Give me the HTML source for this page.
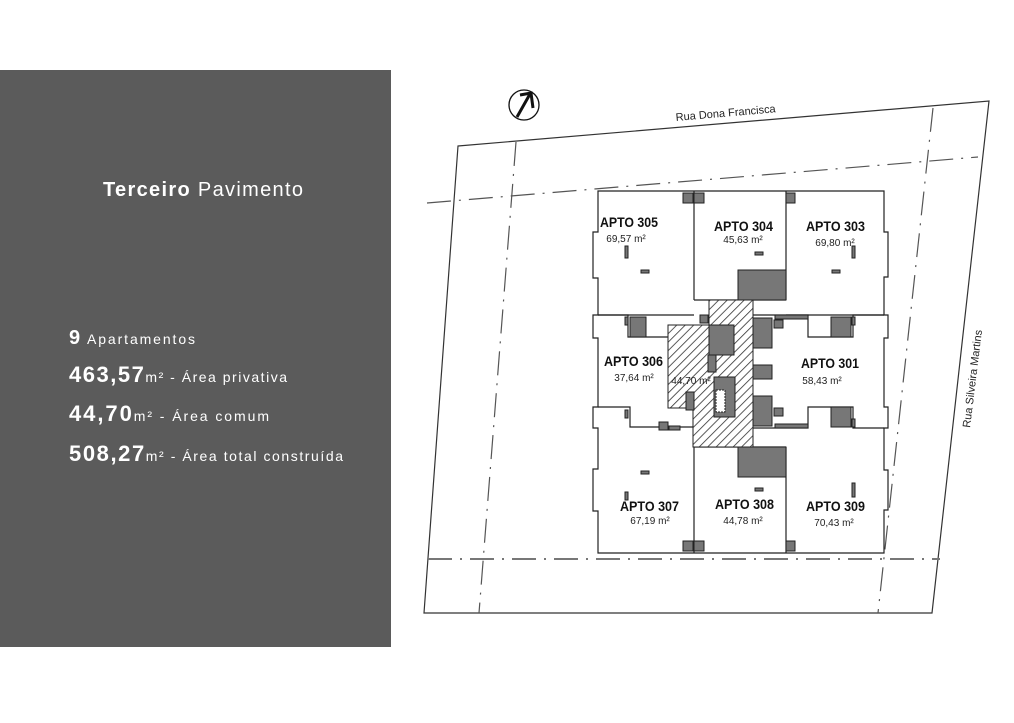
<!DOCTYPE html>
<html><head><meta charset="utf-8"><style>
body{margin:0;width:1014px;height:718px;background:#fff;overflow:hidden;font-family:"Liberation Sans",sans-serif}
</style></head><body>
<svg width="1014" height="718" viewBox="0 0 1014 718" xmlns="http://www.w3.org/2000/svg" font-family="Liberation Sans, sans-serif">
<defs>
<pattern id="h" width="6" height="6" patternUnits="userSpaceOnUse" patternTransform="rotate(45)">
<rect width="6" height="6" fill="#fff"/><line x1="0" y1="0" x2="0" y2="6" stroke="#333" stroke-width="1.6"/>
</pattern>
</defs>
<rect x="0" y="70" width="391" height="577" fill="#5b5b5b"/>
<text x="103" y="196" fill="#fff" font-size="20" textLength="200" lengthAdjust="spacing"><tspan font-weight="bold">Terceiro</tspan> Pavimento</text>
<g fill="#fff">
<text x="69" y="344" font-size="14" textLength="126" lengthAdjust="spacing"><tspan font-weight="bold" font-size="20">9</tspan> Apartamentos</text>
<text x="69" y="382" font-size="14" textLength="218" lengthAdjust="spacing"><tspan font-weight="bold" font-size="22">463,57</tspan>m² - Área privativa</text>
<text x="69" y="421" font-size="14" textLength="200" lengthAdjust="spacing"><tspan font-weight="bold" font-size="22">44,70</tspan>m²  - Área comum</text>
<text x="69" y="461" font-size="14" textLength="274" lengthAdjust="spacing"><tspan font-weight="bold" font-size="22">508,27</tspan>m²  - Área total construída</text>
</g>
<!-- lot -->
<polygon points="458,146 989,101 932,613 424,613" fill="none" stroke="#333" stroke-width="1.2"/>
<g stroke="#555" stroke-width="1.2" stroke-dasharray="24,8,2,8" fill="none">
<line x1="427" y1="203" x2="978" y2="157"/>
<line x1="516" y1="142" x2="479" y2="613"/>
<line x1="933" y1="108" x2="878" y2="613"/>
<line x1="428" y1="559" x2="940" y2="559" stroke-width="2" stroke="#777"/>
</g>
<text x="0" y="0" font-size="11" fill="#222" transform="translate(676,121) rotate(-5)">Rua Dona Francisca</text>
<text x="0" y="0" font-size="11" fill="#222" transform="translate(970,428) rotate(-83)">Rua Silveira Martins</text>
<circle cx="524" cy="105" r="15" fill="none" stroke="#111" stroke-width="1.3"/>
<path d="M517,117 L530,94 M520,95 L531,93 L533,108" stroke="#111" stroke-width="3" fill="none"/>
<!-- building outline -->
<g fill="#fff" stroke="#222" stroke-width="1.2">
<path d="M598,191 L884,191 L884,232 L888,232 L888,277 L884,277 L884,315 L888,315 L888,338 L884,338 L884,407 L888,407 L888,428 L884,428 L884,470 L888,470 L888,510 L884,510 L884,553 L598,553 L598,511 L593,511 L593,469 L598,469 L598,428 L593,428 L593,407 L598,407 L598,338 L593,338 L593,315 L598,315 L598,278 L593,278 L593,232 L598,232 Z"/>
</g>
<g fill="none" stroke="#222" stroke-width="1.2">
<line x1="694" y1="191" x2="694" y2="300"/><line x1="786" y1="191" x2="786" y2="300"/>
<line x1="694" y1="300" x2="786" y2="300"/>
<line x1="598" y1="315" x2="694" y2="315"/><line x1="786" y1="315" x2="884" y2="315"/>
<path d="M598,315 L628,315 L628,337 L668,337"/>
<path d="M753,315 L808,315 L808,337 L853,337 L853,315 L884,315"/>
<path d="M598,407 L630,407 L630,427 L693,427"/>
<path d="M753,428 L808,428 L808,407 L853,407 L853,428 L884,428"/>
<line x1="694" y1="447" x2="694" y2="553"/><line x1="786" y1="447" x2="786" y2="553"/>
<line x1="694" y1="447" x2="786" y2="447"/>
</g>
<!-- core hatch -->
<path d="M709,300 L753,300 L753,447 L693,447 L693,408 L668,408 L668,325 L709,325 Z" fill="url(#h)" stroke="#222" stroke-width="1"/>
<!-- dark blocks -->
<g fill="#777" stroke="#222" stroke-width="1">
<rect x="738" y="270" width="48" height="30"/><rect x="738" y="447" width="48" height="30"/>
<rect x="709" y="325" width="25" height="30"/><rect x="708" y="355" width="8" height="17"/>
<rect x="714" y="377" width="21" height="40"/><rect x="686" y="392" width="8" height="18"/>
<rect x="753" y="318" width="19" height="30"/><rect x="753" y="365" width="19" height="14"/>
<rect x="753" y="396" width="19" height="30"/>
<rect x="630" y="317" width="16" height="20"/><rect x="831" y="317" width="20" height="20"/>
<rect x="831" y="407" width="20" height="20"/>
<rect x="659" y="422" width="9" height="8"/><rect x="669" y="426" width="11" height="4"/>
<rect x="774" y="320" width="9" height="8"/><rect x="774" y="408" width="9" height="8"/>
<rect x="775" y="315" width="33" height="4"/><rect x="775" y="424" width="33" height="4"/>
<rect x="700" y="315" width="8" height="8"/>
<rect x="683" y="193" width="10" height="10"/><rect x="694" y="193" width="10" height="10"/><rect x="786" y="193" width="9" height="10"/>
<rect x="683" y="541" width="10" height="10"/><rect x="694" y="541" width="10" height="10"/><rect x="786" y="541" width="9" height="10"/>
<rect x="641" y="270" width="8" height="3"/><rect x="832" y="270" width="8" height="3"/><rect x="755" y="252" width="8" height="3"/>
<rect x="641" y="471" width="8" height="3"/><rect x="755" y="488" width="8" height="3"/>
<rect x="625" y="246" width="3" height="12"/><rect x="852" y="246" width="3" height="12"/>
<rect x="625" y="492" width="3" height="8"/><rect x="852" y="483" width="3" height="14"/>
<rect x="625" y="317" width="3" height="8"/><rect x="625" y="410" width="3" height="8"/>
<rect x="852" y="317" width="3" height="8"/><rect x="852" y="419" width="3" height="8"/>
</g>
<rect x="716" y="390" width="9" height="22" fill="#fff" stroke="#222" stroke-dasharray="2,1"/>
<!-- labels -->
<g font-size="14" font-weight="bold" fill="#111">
<text x="600" y="227" textLength="58" lengthAdjust="spacingAndGlyphs">APTO 305</text>
<text x="714" y="231" textLength="59" lengthAdjust="spacingAndGlyphs">APTO 304</text>
<text x="806" y="231" textLength="59" lengthAdjust="spacingAndGlyphs">APTO 303</text>
<text x="604" y="366" textLength="59" lengthAdjust="spacingAndGlyphs">APTO 306</text>
<text x="801" y="368" textLength="58" lengthAdjust="spacingAndGlyphs">APTO 301</text>
<text x="620" y="511" textLength="59" lengthAdjust="spacingAndGlyphs">APTO 307</text>
<text x="715" y="509" textLength="59" lengthAdjust="spacingAndGlyphs">APTO 308</text>
<text x="806" y="511" textLength="59" lengthAdjust="spacingAndGlyphs">APTO 309</text>
</g>
<g font-size="10" fill="#222" text-anchor="middle">
<text x="626" y="242">69,57 m²</text><text x="743" y="243">45,63 m²</text><text x="835" y="246">69,80 m²</text>
<text x="634" y="381">37,64 m²</text><text x="691" y="384">44,70 m²</text><text x="822" y="384">58,43 m²</text>
<text x="650" y="524">67,19 m²</text><text x="743" y="524">44,78 m²</text><text x="834" y="526">70,43 m²</text>
</g>
</svg>
</body></html>
